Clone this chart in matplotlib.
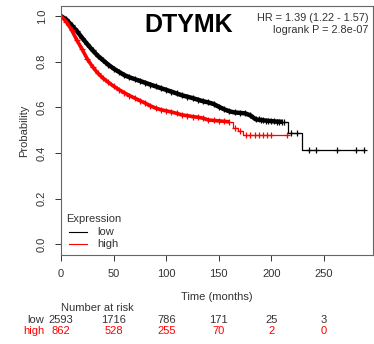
import matplotlib
matplotlib.use("Agg")
import matplotlib.pyplot as plt
from matplotlib.transforms import blended_transform_factory

plt.rcParams["font.family"] = ["Liberation Sans", "DejaVu Sans"]

# Kaplan-Meier curves (time in months, survival)
low_t = [0, 5, 10, 15, 20, 25, 30, 35, 40, 45, 50, 55, 60, 65, 70, 75, 80, 85, 90, 95,
         100, 105, 110, 115, 120, 125, 130, 135, 140, 145, 150, 155, 160, 165, 170, 175,
         180, 185, 190, 195, 200, 205, 210, 216, 229, 288]
low_s = [1.0, 0.985, 0.96, 0.935, 0.905, 0.877, 0.85, 0.826, 0.806, 0.787, 0.77, 0.756,
         0.742, 0.732, 0.724, 0.716, 0.708, 0.70, 0.692, 0.684, 0.677, 0.669, 0.661, 0.653,
         0.647, 0.641, 0.634, 0.627, 0.622, 0.615, 0.603, 0.592, 0.583, 0.578, 0.576, 0.574,
         0.565, 0.548, 0.545, 0.542, 0.54, 0.538, 0.537, 0.487, 0.414, 0.414]
low_cens_t = [188, 192, 197, 202, 207, 212, 219, 224, 236, 242, 262, 280, 288]
low_dense_end = 43   # index where the crowded part ends

high_t = [0, 5, 10, 15, 20, 25, 30, 35, 40, 45, 50, 55, 60, 65, 70, 75, 80, 85, 90, 95,
          100, 105, 110, 115, 120, 125, 130, 135, 140, 145, 150, 155, 160, 163, 168, 173, 215]
high_s = [1.0, 0.975, 0.94, 0.895, 0.855, 0.812, 0.778, 0.75, 0.728, 0.71, 0.693, 0.678,
          0.665, 0.652, 0.641, 0.63, 0.619, 0.607, 0.597, 0.59, 0.585, 0.58, 0.574, 0.567,
          0.564, 0.56, 0.557, 0.553, 0.545, 0.543, 0.541, 0.539, 0.537, 0.51, 0.495, 0.479,
          0.479]
high_cens_t = [165, 170, 176, 180, 184, 188, 192, 196, 200, 215]
high_dense_end = 33

risk_times = [0, 50, 100, 150, 200, 250]
risk_low = [2593, 1716, 786, 171, 25, 3]
risk_high = [862, 528, 255, 70, 2, 0]

gene = "DTYMK"
hr_text = "HR = 1.39 (1.22 - 1.57)\nlogrank P = 2.8e-07"


def surv_at(ts, ss, t):
    v = ss[0]
    for a, b in zip(ts, ss):
        if a <= t:
            v = b
    return v


W, H = 374, 344
fig = plt.figure(figsize=(W / 100, H / 100), dpi=100)
ax = fig.add_axes([61 / W, 1 - 255 / H, 312 / W, 249 / H])

for ts, ss, k, cens, col, lw in [(low_t, low_s, low_dense_end, low_cens_t, "black", 3.2),
                                 (high_t, high_s, high_dense_end, high_cens_t, "red", 2.6)]:
    # crowded part: many events and censor marks merge into a thick band
    ax.plot(ts[:k], ss[:k], color=col, lw=lw, solid_capstyle="butt")
    ax.plot(ts[1:k], ss[1:k], "+", color=col, ms=5, mew=0.9)
    # sparse tail as a step curve
    ax.step(ts[k - 1:], ss[k - 1:], where="post", color=col, lw=0.9)
    ax.plot(cens, [surv_at(ts, ss, c) for c in cens], "+", color=col, ms=5, mew=0.9)

ax.set_xlim(0, 296.5)
ax.set_ylim(-0.046, 1.044)
ax.set_xticks(risk_times)
ax.set_yticks([0, 0.2, 0.4, 0.6, 0.8, 1.0])
ax.set_yticklabels(["0.0", "0.2", "0.4", "0.6", "0.8", "1.0"], rotation=90, va="center")
ax.tick_params(labelsize=8, colors="#333333", length=4, width=0.7, pad=6)
for sp in ax.spines.values():
    sp.set_color("#666666")
    sp.set_linewidth(0.8)
ax.set_ylabel("Probability", fontsize=8, color="#333333", labelpad=6)

ax.text(0.41, 0.925, gene, transform=ax.transAxes, fontsize=18, fontweight="bold",
        ha="center", va="center")
ax.text(0.985, 0.97, hr_text, transform=ax.transAxes, fontsize=7.8, color="#333333",
        ha="right", va="top", linespacing=1.2)

# legend
ax.text(0.016, 0.145, "Expression", transform=ax.transAxes, fontsize=8, color="#333333",
        va="center")
ax.plot([0.026, 0.084], [0.093, 0.093], transform=ax.transAxes, color="black", lw=0.8)
ax.plot([0.026, 0.084], [0.045, 0.045], transform=ax.transAxes, color="red", lw=0.8)
ax.text(0.116, 0.093, "low", transform=ax.transAxes, fontsize=8, color="#333333", va="center")
ax.text(0.116, 0.045, "high", transform=ax.transAxes, fontsize=8, color="#333333", va="center")

# x label and number at risk table
tr = blended_transform_factory(ax.transData, fig.transFigure)
fig.text(217 / W, 1 - 297 / H, "Time (months)", fontsize=8, color="#333333",
         ha="center", va="center")
fig.text(97 / W, 1 - 308 / H, "Number at risk", fontsize=8, color="#333333",
         ha="center", va="center")
fig.text(36 / W, 1 - 320 / H, "low", fontsize=8, color="#333333", ha="center", va="center")
fig.text(34 / W, 1 - 331 / H, "high", fontsize=8, color="red", ha="center", va="center")
for t, nl, nh in zip(risk_times, risk_low, risk_high):
    ax.text(t, 1 - 320 / H, str(nl), transform=tr, fontsize=8, color="#333333",
            ha="center", va="center", clip_on=False)
    ax.text(t, 1 - 331 / H, str(nh), transform=tr, fontsize=8, color="red",
            ha="center", va="center", clip_on=False)

fig.savefig("out.png", dpi=100, facecolor="white")
